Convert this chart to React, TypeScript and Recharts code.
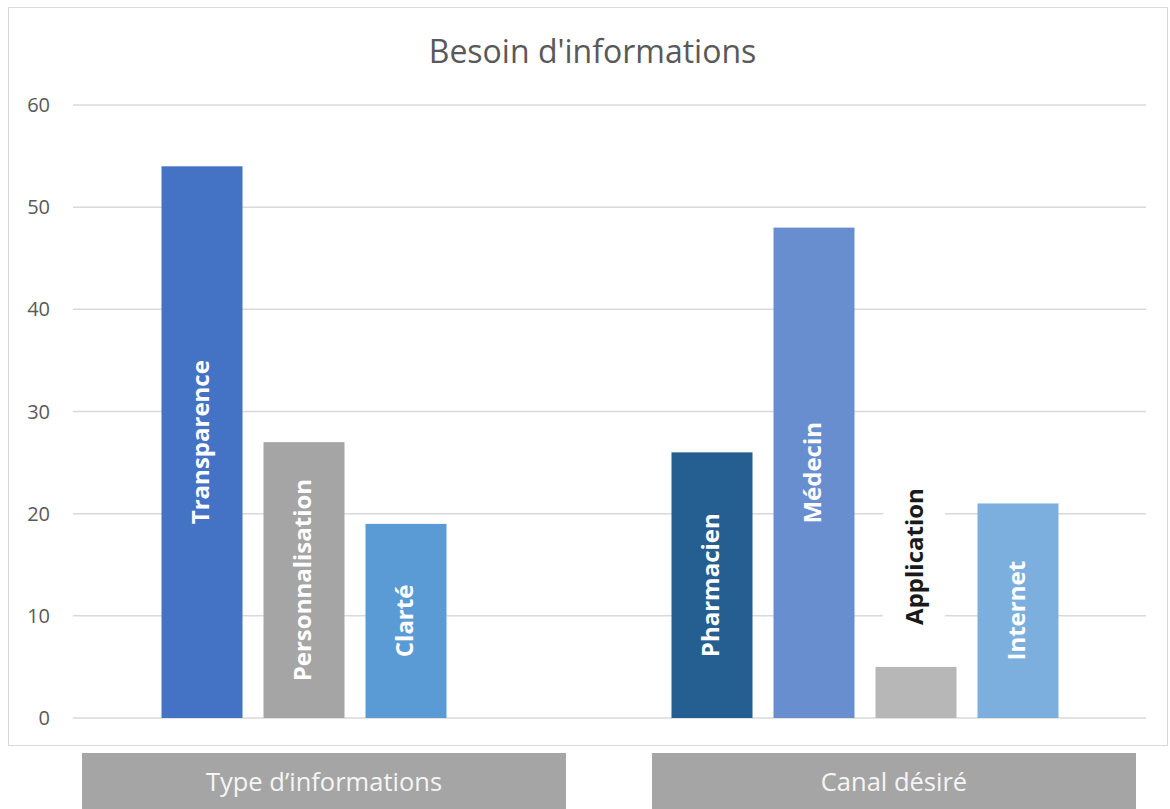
import React from 'react';
import { BarChart, Bar, XAxis, YAxis, CartesianGrid } from 'recharts';

const title = "Besoin d'informations";
const categories = ['Transparence', 'Personnalisation', 'Clarté', '', '', 'Pharmacien', 'Médecin', 'Application', 'Internet'];
const values: (number | null)[] = [54, 27, 19, null, null, 26, 48, 5, 21];
const yTicks = [0, 10, 20, 30, 40, 50, 60];
const groupLabels = ['Type d’informations', 'Canal désiré'];

const barColors = ['#4472C4', '#A5A5A5', '#5B9BD5', 'none', 'none', '#255E91', '#698ED0', '#B7B7B7', '#7CAFDD'];

const data = categories.map((name, i) => ({ key: `c${i}`, name, value: values[i] }));

const FONT = '"Open Sans", "Noto Sans", sans-serif';

const BarShape = (props: any) => {
  const { x, y, width, height, payload } = props;
  if (!payload || payload.value == null || !payload.name) return null;
  const idx = categories.indexOf(payload.name);
  const fill = barColors[idx];
  const cx = x + width / 2 - 3;
  const fontProps = { fontFamily: FONT, fontWeight: 700, fontSize: 24 };
  let label: React.ReactNode;
  if (payload.value < 10) {
    const bottom = y - 42;
    label = (
      <g>
        <rect x={cx - 30} y={bottom - 150} width={62} height={156} fill="#ffffff" />
        <text
          transform={`translate(${cx},${bottom}) rotate(-90)`}
          textAnchor="start"
          dominantBaseline="central"
          fill="#1a1a1a"
          {...fontProps}
        >
          {payload.name}
        </text>
      </g>
    );
  } else {
    const cy = y + height / 2;
    label = (
      <text
        transform={`translate(${cx},${cy}) rotate(-90)`}
        textAnchor="middle"
        dominantBaseline="central"
        fill="#ffffff"
        {...fontProps}
      >
        {payload.name}
      </text>
    );
  }
  return (
    <g>
      <rect x={x} y={y} width={width} height={height} fill={fill} />
      {label}
    </g>
  );
};

const groupBoxes = [
  { left: 82, width: 484 },
  { left: 652, width: 484 },
];

export default function App() {
  return (
    <div style={{ position: 'absolute', left: 0, top: 0, width: 1170, height: 809, overflow: 'hidden', background: '#fff', fontFamily: FONT }}>
      <div
        style={{
          position: 'absolute',
          left: 8,
          top: 7,
          width: 1160,
          height: 739,
          border: '1.5px solid #D9D9D9',
          boxSizing: 'border-box',
        }}
      />
      <div
        style={{
          position: 'absolute',
          left: 0,
          top: 29,
          width: 1185,
          textAlign: 'center',
          fontSize: 32,
          lineHeight: '44px',
          color: '#595959',
        }}
      >
        {title}
      </div>
      <div style={{ position: 'absolute', left: 0, top: 0 }}>
        <BarChart
          width={1170}
          height={809}
          data={data}
          margin={{ top: 105, right: 24, bottom: 91, left: 0 }}
          barSize={81}
        >
          <CartesianGrid vertical={false} stroke="#D9D9D9" strokeWidth={1.5} />
          <XAxis dataKey="key" hide padding={{ left: 77.5, right: 77.5 }} />
          <YAxis
            domain={[0, 60]}
            ticks={yTicks}
            width={73}
            axisLine={false}
            tickLine={false}
            tickSize={0}
            tickMargin={23}
            tick={{ fill: '#595959', fontSize: 20, fontFamily: FONT }}
          />
          <Bar dataKey="value" isAnimationActive={false} shape={<BarShape />} />
        </BarChart>
      </div>
      {groupLabels.map((g, i) => (
        <div
          key={g}
          style={{
            position: 'absolute',
            left: groupBoxes[i].left,
            top: 753,
            width: groupBoxes[i].width,
            height: 56,
            background: '#A5A5A5',
            color: '#F5F5F5',
            fontSize: 25.5,
            lineHeight: '56px',
            textAlign: 'center',
          }}
        >
          {g}
        </div>
      ))}
    </div>
  );
}
